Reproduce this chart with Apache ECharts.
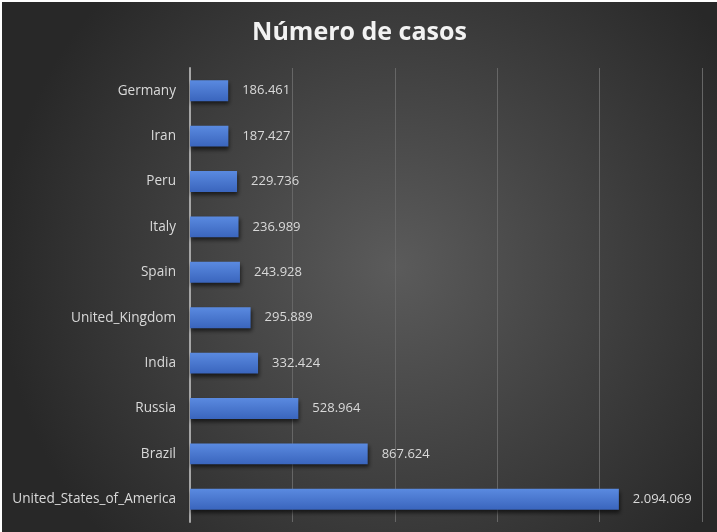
<!DOCTYPE html>
<html>
<head>
<meta charset="utf-8">
<script src="https://cdn.jsdelivr.net/npm/echarts@6/dist/echarts.min.js"></script>
<style>
html,body{margin:0;padding:0;background:#ffffff;width:717px;height:532px;overflow:hidden;}
#chart{position:absolute;left:2px;top:2px;width:715px;height:530px;}
</style>
</head>
<body>
<div id="chart"></div>
<script>
var titleText = 'Número de casos';
var countries = ['Germany','Iran','Peru','Italy','Spain','United_Kingdom','India','Russia','Brazil','United_States_of_America'];
var cases = [186461,187427,229736,236989,243928,295889,332424,528964,867624,2094069];
var axisMax = 2500000;
var axisInterval = 500000;

function fmt(v){
  return String(v).replace(/\B(?=(\d{3})+(?!\d))/g, '.');
}

var chart = echarts.init(document.getElementById('chart'));
chart.setOption({
  backgroundColor: {
    type: 'radial', x: 0.55, y: 0.5, r: 0.75,
    colorStops: [{offset:0,color:'#5b5b5b'},{offset:1,color:'#282828'}]
  },
  title: {
    text: titleText, left: 'center', top: 13,
    textStyle: {color:'#f2f2f2', fontSize:25, fontWeight:'bold', fontFamily:'Open Sans'}
  },
  grid: {left:188, right:15, top:66, bottom:10, containLabel:false},
  xAxis: {
    type:'value', min:0, max:axisMax, interval:axisInterval,
    axisLabel:{show:false}, axisLine:{show:false}, axisTick:{show:false},
    splitLine:{show:true, lineStyle:{color:'#666666', width:1}}
  },
  yAxis: {
    type:'category', data:countries, inverse:true,
    axisLine:{show:true, lineStyle:{color:'#a6a6a6', width:2}},
    axisTick:{show:false},
    axisLabel:{color:'#d9d9d9', fontSize:13.6, fontFamily:'Open Sans', margin:14}
  },
  series: [{
    type:'bar', data:cases, barCategoryGap:'54%',
    itemStyle:{
      color:{type:'linear', x:0, y:0, x2:0, y2:1,
        colorStops:[{offset:0,color:'#5a8ae0'},{offset:1,color:'#3a65bd'}]},
      shadowColor:'rgba(0,0,0,0.6)', shadowBlur:4, shadowOffsetX:1, shadowOffsetY:3
    },
    label:{show:true, position:'right', distance:14, color:'#d9d9d9', fontSize:13,
      fontFamily:'Open Sans', formatter:function(p){return fmt(p.value);}}
  }],
  animation:false
});
</script>
</body>
</html>
